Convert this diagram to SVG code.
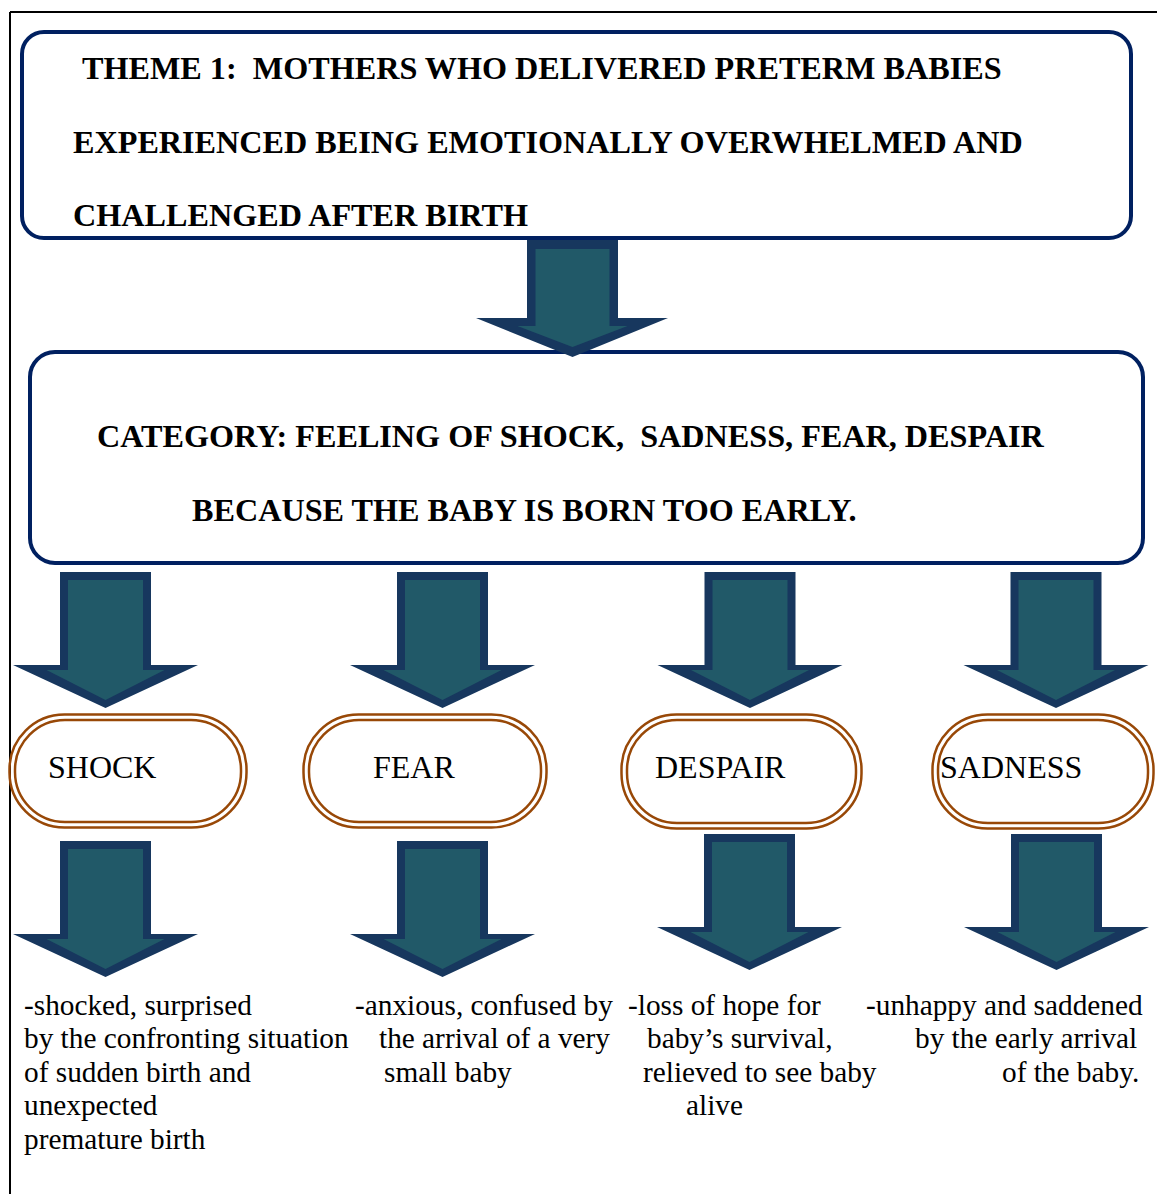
<svg xmlns="http://www.w3.org/2000/svg" width="1157" height="1194" viewBox="0 0 1157 1194">
<style>
.frame{stroke:#000;stroke-width:2;fill:none}
.box{fill:#fff;stroke:#002060;stroke-width:4}
.pill{fill:none;stroke:#984807;stroke-width:2.5}
.ao{fill:#17375e}
.ai{fill:#215968}
.head{font-family:"Liberation Serif","Times New Roman",serif;font-weight:bold;font-size:32.2px;fill:#000;white-space:pre}
.label{font-family:"Liberation Serif","Times New Roman",serif;font-size:32px;fill:#000}
.body{font-family:"Liberation Serif","Times New Roman",serif;font-size:29.3px;fill:#000}
</style>
<defs>
<g id="arr">
<polygon class="ao" points="-45.5,0 45.5,0 45.5,93 92.5,93 0,136 -92.5,93 -45.5,93"/>
<polygon class="ai" points="-37.5,8 37.5,8 37.5,98 59,98 0,128 -59,98 -37.5,98"/>
</g>
</defs>
<rect width="1157" height="1194" fill="#fff"/>
<g id="frame">
<line class="frame" x1="10" y1="12" x2="1157" y2="12"/>
<line class="frame" x1="10" y1="12" x2="10" y2="1194"/>
</g>
<g id="theme">
<rect class="box" x="22" y="32" width="1109" height="206" rx="22"/>
<text class="head" x="82" y="79" xml:space="preserve">THEME 1:  MOTHERS WHO DELIVERED PRETERM BABIES</text>
<text class="head" x="73" y="153">EXPERIENCED BEING EMOTIONALLY OVERWHELMED AND</text>
<text class="head" x="73" y="226">CHALLENGED AFTER BIRTH</text>
</g>
<g id="category">
<rect class="box" x="30" y="352" width="1113" height="211" rx="25"/>
<text class="head" x="97" y="447" xml:space="preserve">CATEGORY: FEELING OF SHOCK,  SADNESS, FEAR, DESPAIR</text>
<text class="head" x="192" y="521">BECAUSE THE BABY IS BORN TOO EARLY.</text>
</g>
<g id="shock">
<rect class="pill" x="9.5" y="714.5" width="237" height="113" rx="55"/>
<rect class="pill" x="15" y="720" width="226" height="102" rx="50"/>
<text class="label" x="48" y="778">SHOCK</text>
</g>
<g id="fear">
<rect class="pill" x="303.5" y="714.5" width="243" height="113" rx="55"/>
<rect class="pill" x="309" y="720" width="232" height="102" rx="50"/>
<text class="label" x="373" y="778">FEAR</text>
</g>
<g id="despair">
<rect class="pill" x="621.5" y="714.5" width="240" height="114" rx="55"/>
<rect class="pill" x="627" y="720" width="229" height="103" rx="50"/>
<text class="label" x="655" y="778">DESPAIR</text>
</g>
<g id="sadness">
<rect class="pill" x="932.5" y="714.5" width="221" height="114" rx="55"/>
<rect class="pill" x="938" y="720" width="210" height="103" rx="50"/>
<text class="label" x="940" y="778">SADNESS</text>
</g>
<g id="connectors">
<g>
<polygon class="ao" points="527,240 618,240 618,318 668,318 572.5,357 476,318 527,318"/>
<polygon class="ai" points="535.5,249 609.5,249 609.5,326 627.5,326 572.5,347 517.5,326 535.5,326"/>
</g>
<use href="#arr" x="105.5" y="572"/>
<use href="#arr" x="442.5" y="572"/>
<use href="#arr" x="750" y="572"/>
<use href="#arr" x="1056" y="572"/>
<use href="#arr" x="105.5" y="841"/>
<use href="#arr" x="442.5" y="841"/>
<use href="#arr" x="749.5" y="834"/>
<use href="#arr" x="1056.5" y="834"/>
</g>
<g id="shock-text">
<text class="body" x="24" y="1015">-shocked, surprised</text>
<text class="body" x="24" y="1048">by the confronting situation</text>
<text class="body" x="24" y="1082">of sudden birth and</text>
<text class="body" x="24" y="1115">unexpected</text>
<text class="body" x="24" y="1149">premature birth</text>
</g>
<g id="fear-text">
<text class="body" x="355" y="1015">-anxious, confused by</text>
<text class="body" x="379" y="1048">the arrival of a very</text>
<text class="body" x="384" y="1082">small baby</text>
</g>
<g id="despair-text">
<text class="body" x="628" y="1015">-loss of hope for</text>
<text class="body" x="647" y="1048">baby’s survival,</text>
<text class="body" x="643" y="1082">relieved to see baby</text>
<text class="body" x="686" y="1115">alive</text>
</g>
<g id="sadness-text">
<text class="body" x="866" y="1015">-unhappy and saddened</text>
<text class="body" x="915" y="1048">by the early arrival</text>
<text class="body" x="1002" y="1082">of the baby.</text>
</g>
</svg>
